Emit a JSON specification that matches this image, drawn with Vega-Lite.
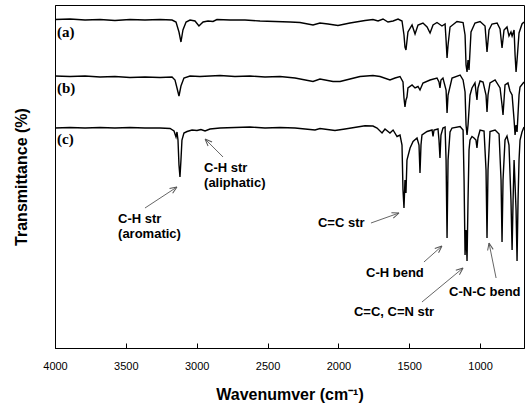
{
"$schema": "https://vega.github.io/schema/vega-lite/v6.json",
"width": 469, "height": 343,
"autosize": "none",
"padding": {"left": 55, "top": 5, "right": 5, "bottom": 60},
"background": "white",
"config": {
 "view": {"stroke": "black", "strokeWidth": 1},
 "font": "Liberation Sans",
 "axis": {"domainColor": "black", "tickColor": "black", "labelColor": "black", "titleColor": "black", "grid": false}
},
"datasets": {
 "spectra": [
  {"trace":"a","wn":4000,"T":328.5},{"trace":"a","wn":3894,"T":329},{"trace":"a","wn":3788,"T":328},{"trace":"a","wn":3682,"T":328.5},{"trace":"a","wn":3577,"T":327.5},{"trace":"a","wn":3471,"T":328.5},{"trace":"a","wn":3365,"T":328},{"trace":"a","wn":3259,"T":328.5},{"trace":"a","wn":3174,"T":328},{"trace":"a","wn":3146,"T":326},{"trace":"a","wn":3125,"T":316},{"trace":"a","wn":3111,"T":306},{"trace":"a","wn":3097,"T":318},{"trace":"a","wn":3075,"T":326},{"trace":"a","wn":3047,"T":328},{"trace":"a","wn":3012,"T":327},{"trace":"a","wn":2984,"T":322},{"trace":"a","wn":2955,"T":326},{"trace":"a","wn":2920,"T":327},{"trace":"a","wn":2885,"T":326.5},{"trace":"a","wn":2857,"T":328.5},{"trace":"a","wn":2765,"T":328},{"trace":"a","wn":2659,"T":328},{"trace":"a","wn":2553,"T":327},{"trace":"a","wn":2447,"T":326.5},{"trace":"a","wn":2341,"T":326},{"trace":"a","wn":2271,"T":325.5},{"trace":"a","wn":2179,"T":323},{"trace":"a","wn":2130,"T":325},{"trace":"a","wn":2073,"T":324},{"trace":"a","wn":2003,"T":322.5},{"trace":"a","wn":1918,"T":325},{"trace":"a","wn":1812,"T":327.5},{"trace":"a","wn":1756,"T":328.5},{"trace":"a","wn":1720,"T":327},{"trace":"a","wn":1685,"T":329},{"trace":"a","wn":1650,"T":326},{"trace":"a","wn":1614,"T":327},{"trace":"a","wn":1579,"T":329},{"trace":"a","wn":1551,"T":327},{"trace":"a","wn":1537,"T":313},{"trace":"a","wn":1530,"T":301},{"trace":"a","wn":1523,"T":298},{"trace":"a","wn":1509,"T":316},{"trace":"a","wn":1480,"T":323},{"trace":"a","wn":1459,"T":314},{"trace":"a","wn":1438,"T":323},{"trace":"a","wn":1403,"T":325},{"trace":"a","wn":1374,"T":321},{"trace":"a","wn":1353,"T":315},{"trace":"a","wn":1332,"T":323},{"trace":"a","wn":1304,"T":325.5},{"trace":"a","wn":1269,"T":322},{"trace":"a","wn":1247,"T":324},{"trace":"a","wn":1240,"T":308},{"trace":"a","wn":1233,"T":290},{"trace":"a","wn":1226,"T":303},{"trace":"a","wn":1212,"T":321},{"trace":"a","wn":1163,"T":326.5},{"trace":"a","wn":1120,"T":325.5},{"trace":"a","wn":1106,"T":313},{"trace":"a","wn":1099,"T":283},{"trace":"a","wn":1092,"T":276},{"trace":"a","wn":1085,"T":288},{"trace":"a","wn":1078,"T":278},{"trace":"a","wn":1064,"T":316},{"trace":"a","wn":1036,"T":325},{"trace":"a","wn":1000,"T":326.5},{"trace":"a","wn":965,"T":322},{"trace":"a","wn":951,"T":296},{"trace":"a","wn":937,"T":318},{"trace":"a","wn":916,"T":324},{"trace":"a","wn":880,"T":325},{"trace":"a","wn":859,"T":319},{"trace":"a","wn":845,"T":300},{"trace":"a","wn":831,"T":318},{"trace":"a","wn":810,"T":321},{"trace":"a","wn":796,"T":312},{"trace":"a","wn":782,"T":316},{"trace":"a","wn":774,"T":312},{"trace":"a","wn":760,"T":318},{"trace":"a","wn":753,"T":293},{"trace":"a","wn":746,"T":276},{"trace":"a","wn":739,"T":288},{"trace":"a","wn":725,"T":315},{"trace":"a","wn":704,"T":324},{"trace":"a","wn":690,"T":326},
  {"trace":"b","wn":4000,"T":272},{"trace":"b","wn":3894,"T":271.5},{"trace":"b","wn":3788,"T":272},{"trace":"b","wn":3682,"T":271},{"trace":"b","wn":3577,"T":271.5},{"trace":"b","wn":3471,"T":270.5},{"trace":"b","wn":3365,"T":271},{"trace":"b","wn":3259,"T":270.5},{"trace":"b","wn":3174,"T":271},{"trace":"b","wn":3153,"T":268},{"trace":"b","wn":3139,"T":260},{"trace":"b","wn":3125,"T":252},{"trace":"b","wn":3111,"T":262},{"trace":"b","wn":3090,"T":270},{"trace":"b","wn":3047,"T":272},{"trace":"b","wn":2977,"T":271.5},{"trace":"b","wn":2906,"T":272},{"trace":"b","wn":2835,"T":272.5},{"trace":"b","wn":2730,"T":271.5},{"trace":"b","wn":2624,"T":272},{"trace":"b","wn":2518,"T":271},{"trace":"b","wn":2412,"T":271.5},{"trace":"b","wn":2306,"T":270},{"trace":"b","wn":2179,"T":266.5},{"trace":"b","wn":2130,"T":269},{"trace":"b","wn":2038,"T":266.5},{"trace":"b","wn":1988,"T":266.5},{"trace":"b","wn":1918,"T":269},{"trace":"b","wn":1847,"T":271.5},{"trace":"b","wn":1756,"T":272.5},{"trace":"b","wn":1706,"T":271.5},{"trace":"b","wn":1636,"T":268},{"trace":"b","wn":1600,"T":270},{"trace":"b","wn":1565,"T":271.5},{"trace":"b","wn":1544,"T":266},{"trace":"b","wn":1537,"T":250},{"trace":"b","wn":1530,"T":241},{"trace":"b","wn":1523,"T":248},{"trace":"b","wn":1516,"T":251},{"trace":"b","wn":1509,"T":260},{"trace":"b","wn":1480,"T":263},{"trace":"b","wn":1459,"T":260},{"trace":"b","wn":1438,"T":261.5},{"trace":"b","wn":1424,"T":258},{"trace":"b","wn":1403,"T":265},{"trace":"b","wn":1353,"T":268},{"trace":"b","wn":1304,"T":270},{"trace":"b","wn":1290,"T":266},{"trace":"b","wn":1283,"T":260},{"trace":"b","wn":1276,"T":268},{"trace":"b","wn":1262,"T":270},{"trace":"b","wn":1240,"T":258},{"trace":"b","wn":1233,"T":235},{"trace":"b","wn":1226,"T":253},{"trace":"b","wn":1198,"T":270},{"trace":"b","wn":1141,"T":273},{"trace":"b","wn":1120,"T":268},{"trace":"b","wn":1106,"T":256},{"trace":"b","wn":1099,"T":223},{"trace":"b","wn":1092,"T":213},{"trace":"b","wn":1085,"T":223},{"trace":"b","wn":1071,"T":253},{"trace":"b","wn":1057,"T":260},{"trace":"b","wn":1036,"T":265},{"trace":"b","wn":1022,"T":248},{"trace":"b","wn":1015,"T":260},{"trace":"b","wn":1000,"T":267},{"trace":"b","wn":979,"T":266},{"trace":"b","wn":958,"T":253},{"trace":"b","wn":951,"T":236},{"trace":"b","wn":944,"T":253},{"trace":"b","wn":930,"T":265},{"trace":"b","wn":894,"T":268},{"trace":"b","wn":859,"T":260},{"trace":"b","wn":845,"T":243},{"trace":"b","wn":838,"T":233},{"trace":"b","wn":831,"T":248},{"trace":"b","wn":824,"T":263},{"trace":"b","wn":803,"T":265},{"trace":"b","wn":789,"T":257},{"trace":"b","wn":774,"T":253},{"trace":"b","wn":760,"T":228},{"trace":"b","wn":753,"T":213},{"trace":"b","wn":746,"T":223},{"trace":"b","wn":739,"T":216},{"trace":"b","wn":725,"T":253},{"trace":"b","wn":718,"T":261},{"trace":"b","wn":690,"T":266},
  {"trace":"c","wn":4000,"T":220},{"trace":"c","wn":3894,"T":220.5},{"trace":"c","wn":3788,"T":220},{"trace":"c","wn":3682,"T":220.5},{"trace":"c","wn":3577,"T":220},{"trace":"c","wn":3471,"T":220.5},{"trace":"c","wn":3365,"T":220},{"trace":"c","wn":3259,"T":220},{"trace":"c","wn":3188,"T":219.5},{"trace":"c","wn":3160,"T":217},{"trace":"c","wn":3146,"T":211},{"trace":"c","wn":3139,"T":216},{"trace":"c","wn":3132,"T":208},{"trace":"c","wn":3125,"T":183},{"trace":"c","wn":3118,"T":171},{"trace":"c","wn":3111,"T":188},{"trace":"c","wn":3104,"T":208},{"trace":"c","wn":3090,"T":215},{"trace":"c","wn":3068,"T":216.5},{"trace":"c","wn":3033,"T":218},{"trace":"c","wn":2998,"T":217.5},{"trace":"c","wn":2970,"T":218.5},{"trace":"c","wn":2941,"T":217},{"trace":"c","wn":2906,"T":219},{"trace":"c","wn":2835,"T":220},{"trace":"c","wn":2730,"T":220.5},{"trace":"c","wn":2624,"T":221},{"trace":"c","wn":2518,"T":220},{"trace":"c","wn":2412,"T":220.5},{"trace":"c","wn":2306,"T":220},{"trace":"c","wn":2165,"T":218},{"trace":"c","wn":2130,"T":219.5},{"trace":"c","wn":2024,"T":217.5},{"trace":"c","wn":1953,"T":219},{"trace":"c","wn":1812,"T":222.3},{"trace":"c","wn":1756,"T":222},{"trace":"c","wn":1727,"T":220},{"trace":"c","wn":1692,"T":215},{"trace":"c","wn":1671,"T":219},{"trace":"c","wn":1636,"T":215},{"trace":"c","wn":1614,"T":218},{"trace":"c","wn":1586,"T":211.5},{"trace":"c","wn":1565,"T":213},{"trace":"c","wn":1551,"T":203},{"trace":"c","wn":1544,"T":158},{"trace":"c","wn":1537,"T":140},{"trace":"c","wn":1530,"T":168},{"trace":"c","wn":1523,"T":155},{"trace":"c","wn":1516,"T":188},{"trace":"c","wn":1494,"T":200},{"trace":"c","wn":1473,"T":206.5},{"trace":"c","wn":1445,"T":210},{"trace":"c","wn":1431,"T":203},{"trace":"c","wn":1424,"T":175},{"trace":"c","wn":1417,"T":203},{"trace":"c","wn":1410,"T":213},{"trace":"c","wn":1374,"T":216.5},{"trace":"c","wn":1339,"T":218},{"trace":"c","wn":1332,"T":211.5},{"trace":"c","wn":1325,"T":218},{"trace":"c","wn":1297,"T":219},{"trace":"c","wn":1290,"T":208},{"trace":"c","wn":1283,"T":190},{"trace":"c","wn":1276,"T":213},{"trace":"c","wn":1262,"T":220},{"trace":"c","wn":1247,"T":221},{"trace":"c","wn":1240,"T":188},{"trace":"c","wn":1233,"T":110},{"trace":"c","wn":1226,"T":188},{"trace":"c","wn":1212,"T":216},{"trace":"c","wn":1198,"T":220},{"trace":"c","wn":1141,"T":221.5},{"trace":"c","wn":1120,"T":218},{"trace":"c","wn":1113,"T":168},{"trace":"c","wn":1106,"T":93},{"trace":"c","wn":1099,"T":118},{"trace":"c","wn":1092,"T":87},{"trace":"c","wn":1085,"T":148},{"trace":"c","wn":1078,"T":198},{"trace":"c","wn":1071,"T":208},{"trace":"c","wn":1057,"T":211.5},{"trace":"c","wn":1043,"T":210},{"trace":"c","wn":1029,"T":208},{"trace":"c","wn":1022,"T":200},{"trace":"c","wn":1015,"T":210},{"trace":"c","wn":1000,"T":218},{"trace":"c","wn":972,"T":217},{"trace":"c","wn":958,"T":178},{"trace":"c","wn":951,"T":110},{"trace":"c","wn":944,"T":178},{"trace":"c","wn":930,"T":216.5},{"trace":"c","wn":894,"T":218},{"trace":"c","wn":866,"T":214},{"trace":"c","wn":852,"T":168},{"trace":"c","wn":845,"T":106},{"trace":"c","wn":838,"T":168},{"trace":"c","wn":824,"T":208},{"trace":"c","wn":810,"T":212},{"trace":"c","wn":796,"T":203},{"trace":"c","wn":782,"T":148},{"trace":"c","wn":774,"T":98},{"trace":"c","wn":767,"T":148},{"trace":"c","wn":760,"T":188},{"trace":"c","wn":746,"T":138},{"trace":"c","wn":739,"T":87},{"trace":"c","wn":732,"T":148},{"trace":"c","wn":725,"T":188},{"trace":"c","wn":718,"T":208},{"trace":"c","wn":704,"T":216},{"trace":"c","wn":690,"T":221}
 ],
 "traceLabels": [
  {"wn": 3986, "T": 316, "label": "(a)"},
  {"wn": 3986, "T": 260, "label": "(b)"},
  {"wn": 3986, "T": 209, "label": "(c)"}
 ],
 "notes": [
  {"wn": 2948, "T": 180, "label": "C-H str"},
  {"wn": 2948, "T": 165, "label": "(aliphatic)"},
  {"wn": 3555, "T": 129, "label": "C-H str"},
  {"wn": 3555, "T": 114, "label": "(aromatic)"},
  {"wn": 2144, "T": 125, "label": "C=C str"},
  {"wn": 1805, "T": 75, "label": "C-H bend"},
  {"wn": 1890, "T": 36, "label": "C=C, C=N str"},
  {"wn": 1219, "T": 56, "label": "C-N-C bend"}
 ],
 "arrows": [
  {"wn": 2814, "T": 191, "wn2": 2941, "T2": 209},
  {"wn": 3365, "T": 140, "wn2": 3139, "T2": 161},
  {"wn": 1770, "T": 125, "wn2": 1572, "T2": 135},
  {"wn": 1396, "T": 86, "wn2": 1269, "T2": 102},
  {"wn": 1410, "T": 46, "wn2": 1120, "T2": 80},
  {"wn": 887, "T": 70, "wn2": 937, "T2": 105}
 ]
},
"layer": [
 {
  "data": {"name": "spectra"},
  "mark": {"type": "line", "color": "black", "strokeWidth": 1.4, "interpolate": "linear"},
  "encoding": {
   "x": {"field": "wn", "type": "quantitative",
     "scale": {"domain": [4000, 690], "nice": false, "zero": false},
     "axis": {"values": [4000, 3500, 3000, 2500, 2000, 1500, 1000], "format": "d", "tickSize": -5, "labelFontSize": 11, "labelPadding": 17, "labelFlush": false,
       "title": "Wavenumver (cm⁻¹)", "titleFontSize": 16, "titleFontWeight": "bold", "titlePadding": 15}},
   "y": {"field": "T", "type": "quantitative",
     "scale": {"domain": [0, 343], "nice": false, "zero": false},
     "axis": {"labels": false, "ticks": false, "title": "Transmittance (%)", "titleFontSize": 16, "titleFontWeight": "bold", "titlePadding": 26}},
   "detail": {"field": "trace"}
  }
 },
 {
  "data": {"name": "traceLabels"},
  "mark": {"type": "text", "font": "Liberation Serif", "fontWeight": "bold", "fontSize": 15, "align": "left", "baseline": "middle", "color": "black"},
  "encoding": {
   "x": {"field": "wn", "type": "quantitative", "title": "Wavenumver (cm⁻¹)"},
   "y": {"field": "T", "type": "quantitative", "title": "Transmittance (%)"},
   "text": {"field": "label"}
  }
 },
 {
  "data": {"name": "notes"},
  "mark": {"type": "text", "font": "Liberation Sans", "fontWeight": "bold", "fontSize": 13, "align": "left", "baseline": "middle", "color": "black"},
  "encoding": {
   "x": {"field": "wn", "type": "quantitative", "title": "Wavenumver (cm⁻¹)"},
   "y": {"field": "T", "type": "quantitative", "title": "Transmittance (%)"},
   "text": {"field": "label"}
  }
 },
 {
  "data": {"name": "arrows"},
  "mark": {"type": "rule", "color": "#555555", "strokeWidth": 0.9},
  "encoding": {
   "x": {"field": "wn", "type": "quantitative", "title": "Wavenumver (cm⁻¹)"},
   "y": {"field": "T", "type": "quantitative", "title": "Transmittance (%)"},
   "x2": {"field": "wn2"},
   "y2": {"field": "T2"}
  }
 },
 {
  "data": {"name": "arrows"},
  "transform": [
   {"calculate": "atan2(datum.T - datum.T2, (datum.wn - datum.wn2) / 7.058) * 180 / PI", "as": "ang"}
  ],
  "mark": {"type": "point", "shape": "M0,0L-1,-0.4M0,0L-1,0.4", "filled": false, "size": 200, "color": "#555555", "strokeWidth": 1, "opacity": 1},
  "encoding": {
   "x": {"field": "wn2", "type": "quantitative", "title": "Wavenumver (cm⁻¹)"},
   "y": {"field": "T2", "type": "quantitative", "title": "Transmittance (%)"},
   "angle": {"field": "ang", "type": "quantitative", "scale": null}
  }
 }
]
}
